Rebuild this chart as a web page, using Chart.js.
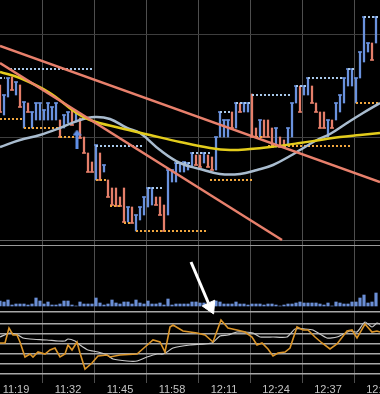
<!DOCTYPE html>
<html>
<head>
    <meta charset="utf-8">
    <title>Grafico 1 minuto</title>
    <script src="https://cdn.jsdelivr.net/npm/chart.js@4.4.2/dist/chart.umd.min.js"></script>
    <style>
        html, body {
            margin: 0;
            padding: 0;
            background: #000;
        }

        canvas {
            display: block;
        }
    </style>
</head>
<body>
    <canvas id="grafico" width="380" height="394"></canvas>
    <script>
        // eixo x: minutos depois das 11:15, uma barra por minuto
        const rotulosTempo = [4, 17, 30, 43, 56, 69, 82, 95];

        // barras de preco (minima / maxima) e direcao (U = alta, D = baixa)
        const barMinima = [
            138, 135, 153, 160, 155, 143, 122, 138, 122, 130,
            130, 130, 130, 130, 130, 113, 122, 127, 125, 128,
            112, 97, 78, 78, 70, 70, 78, 53, 45, 44,
            44, 28, 28, 27, 19, 30, 35, 43, 45, 45,
            35, 19, 35, 68, 68, 78, 78, 80, 83, 85,
            83, 87, 83, 80, 80, 113, 113, 113, 122, 122,
            138, 138, 138, 113, 113, 113, 113, 113, 103, 103,
            103, 103, 104, 113, 147, 138, 155, 155, 147, 138,
            122, 122, 113, 122, 130, 138, 147, 164, 164, 147,
            172, 188, 198, 190, 207
        ];
        const barMaxima = [
            165, 155, 172, 173, 168, 165, 148, 147, 138, 147,
            147, 140, 147, 143, 147, 130, 135, 138, 140, 138,
            132, 113, 97, 88, 105, 97, 85, 70, 62, 62,
            53, 62, 43, 43, 35, 43, 53, 62, 62, 53,
            53, 45, 80, 80, 87, 87, 88, 87, 97, 95,
            95, 97, 95, 93, 113, 138, 130, 130, 138, 147,
            147, 147, 147, 156, 122, 130, 130, 130, 122, 122,
            113, 110, 122, 147, 164, 164, 164, 172, 164, 147,
            138, 138, 130, 130, 147, 155, 172, 181, 181, 172,
            198, 233, 207, 207, 233
        ];
        const barDirecao = "DUUDUDUDUU" + "UUUUUDUUDU" + "DDDDUDUDDD" + "DDUDUUUUUD" + "DDUUUUUUUD" +
            "DUDDUUUUDU" + "DUUDDUDDDU" + "DDUUUDUUDD" + "DDUDUUUUUU" + "UUUDU";

        // volume (centenas de contratos)
        const volume = [
            5, 4, 6, 1, 2, 2, 2, 1, 2, 8,
            5, 2, 4, 1, 1, 2, 5, 5, 1, 0,
            4, 2, 2, 2, 8, 3, 1, 2, 6, 3,
            2, 4, 4, 2, 6, 3, 2, 5, 2, 2,
            3, 1, 7, 1, 2, 2, 2, 2, 4, 4,
            3, 3, 1, 4, 5, 4, 2, 2, 2, 4,
            2, 2, 1, 2, 2, 2, 1, 2, 2, 1,
            0, 1, 2, 2, 3, 4, 3, 3, 3, 3,
            2, 1, 3, 0, 4, 3, 2, 2, 4, 4,
            8, 11, 3, 4, 13
        ];

        // medias moveis
        const mediaLentaT = [0, 5, 12.5, 18.75, 22.5, 30, 37.5, 45, 52.5, 57.5, 62.5, 67.5, 75, 80, 85, 90, 95];
        const mediaLentaV = [178, 172, 157, 138, 130, 122, 115, 108, 102, 100, 101, 103, 107, 110, 113, 115, 117];
        const mediaRapidaT = [0, 5, 10, 15, 20, 23.75, 27.5, 31.75, 35, 40, 45, 50, 55, 60, 64.25, 68.25, 72.5, 75, 79.25, 82.5, 86.75, 90.75, 95];
        const mediaRapidaV = [103, 110, 115, 122, 130, 133, 131, 122, 117, 100, 87, 81, 76, 76, 80, 85, 94, 100, 110, 116, 127, 137, 147];

        // linhas de tendencia
        const tendA_t = [0, 95];
        const tendA_p = [204, 68];
        const tendB_t = [0, 70.5];
        const tendB_p = [187, 10];

        // resistencias (pontilhado azul) e suportes (pontilhado laranja)
        const resPreco = [172, 181, 104, 62, 87, 97, 138, 147, 155, 164, 172, 181, 233];
        const resInicio = [0, 2.5, 24, 37, 44, 48, 55, 59, 63, 74, 77, 87, 91];
        const resFim = [1.2, 23, 36, 41, 47.5, 53, 58, 63, 73, 77, 86, 89, 95];
        const supPreco = [131, 122, 113, 70, 44, 27, 19, 70, 113, 104, 147];
        const supInicio = [0, 6, 15, 24, 27.5, 31, 34, 52.5, 64, 67, 89];
        const supFim = [5.5, 15, 20, 27, 30, 33, 52, 63, 66, 88, 95];

        // oscilador (%K laranja, %D cinza)
        const osciKT = [0, 1.25, 2.25, 3.25, 4.25, 5, 6.25, 7.5, 8.25, 9.5, 11.25, 12.5, 13.75, 15, 16.25, 17, 18, 19.25, 20, 21.25,
            23, 24.5, 26.75, 27.5, 30, 34.25, 36.25, 38.25, 40, 41.25, 42.5, 43.25, 45.75, 47.5, 49.25, 51.25, 53.25, 55.25, 57, 59.25,
            61.25, 63, 64.25, 65.5, 67, 68.25, 69.5, 71.25, 72.5, 74.25, 75.75, 77, 78.75, 80.5, 82.5, 84.25, 86.75, 88, 89.25, 91.25,
            93, 94.25, 95];
        const osciKV = [62, 62, 92, 78, 78, 64, 34, 40, 34, 44, 40, 48, 52, 34, 40, 58, 48, 64, 42, 10,
            22, 36, 38, 34, 38, 40, 54, 68, 64, 44, 94, 98, 86, 84, 82, 78, 64, 108, 92, 88,
            84, 74, 58, 62, 50, 36, 42, 44, 52, 94, 88, 88, 74, 62, 50, 60, 86, 88, 72, 100,
            84, 86, 84];
        const osciDT = [0, 2.5, 4.5, 5.75, 7.5, 11.75, 14.5, 16.25, 17, 18.75, 20, 22, 24.5, 26.75, 28.25, 31.75, 34.25, 36.75, 39.25, 40.75,
            41.75, 43.25, 47.5, 53, 55, 57, 59.25, 61.25, 63.25, 65, 68.25, 71.75, 73.75, 76.25, 78.25, 81.75, 84.25, 87.5, 89.25, 91.25,
            93, 94.25, 95];
        const osciDV = [74, 82, 78, 72, 70, 68, 66, 66, 70, 66, 58, 48, 44, 38, 30, 26, 26, 34, 40, 40,
            44, 52, 58, 62, 76, 78, 84, 84, 82, 74, 74, 74, 90, 90, 88, 72, 74, 86, 84, 104,
            94, 102, 100];
        const niveisOsci = [0, 20, 40, 60, 80, 100, 125];

        // marcacoes: seta de compra (preco) e seta branca (oscilador)
        const setaCompraT = [19.25];
        const setaCompraP = [111];
        const setaBrancaT = [47.75, 52.1];
        const setaBrancaV = [224, 142];
        const pontaSetaT = [52.55];
        const pontaSetaV = [134.6];

        const niveisPreco = [5, 10, 112.5, 215];

        function pontos(t, v) {
            return t.map((x, i) => ({ x: x, y: v[i] }));
        }

        function segmentos(preco, ini, fim) {
            const out = [];
            preco.forEach((p, i) => {
                out.push({ x: ini[i], y: p }, { x: fim[i], y: p }, { x: fim[i] + 0.01, y: null });
            });
            return out;
        }

        function horario(min) {
            const total = 11 * 60 + 15 + min;
            const h = Math.floor(total / 60);
            const m = total % 60;
            return h + ":" + String(m).padStart(2, "0");
        }

        // seta azul desenhada num canvas pequeno
        const setaAzul = document.createElement("canvas");
        setaAzul.width = 9;
        setaAzul.height = 19;
        (function () {
            const c = setaAzul.getContext("2d");
            c.fillStyle = "#5f8fe6";
            c.beginPath();
            c.moveTo(4.5, 0);
            c.lineTo(9, 6);
            c.lineTo(0, 6);
            c.closePath();
            c.fill();
            c.fillRect(3, 6, 3, 13);
        })();

        const fundoPreto = {
            id: "fundoPreto",
            beforeDraw(chart) {
                const c = chart.ctx;
                c.save();
                c.fillStyle = "#000";
                c.fillRect(0, 0, chart.width, chart.height);
                c.restore();
            }
        };

        const AZUL = "#6a92de";
        const SALMAO = "#e57f6a";
        const corBarra = barMinima.map((lo, i) => barDirecao[i] === "U" ? AZUL : SALMAO);

        new Chart(document.getElementById("grafico"), {
            type: "bar",
            data: {
                datasets: [
                    {
                        type: "line",
                        data: pontos(pontaSetaT, pontaSetaV),
                        yAxisID: "yi",
                        showLine: false,
                        pointStyle: "triangle",
                        pointRadius: 8,
                        pointRotation: 155,
                        pointBackgroundColor: "#fff",
                        pointBorderColor: "#fff",
                        pointBorderWidth: 1,
                        order: 0
                    },
                    {
                        type: "line",
                        data: pontos(setaBrancaT, setaBrancaV),
                        yAxisID: "yi",
                        borderColor: "#fff",
                        borderWidth: 3,
                        pointRadius: 0,
                        order: 0
                    },
                    {
                        type: "line",
                        data: pontos(osciKT, osciKV),
                        yAxisID: "yi",
                        borderColor: "#dc962a",
                        borderWidth: 1.6,
                        pointRadius: 0,
                        tension: 0,
                        order: 1
                    },
                    {
                        type: "line",
                        data: pontos(osciDT, osciDV),
                        yAxisID: "yi",
                        borderColor: "#c8c8c8",
                        borderWidth: 1.2,
                        pointRadius: 0,
                        tension: 0.2,
                        order: 2
                    },
                    {
                        type: "line",
                        data: pontos(setaCompraT, setaCompraP),
                        yAxisID: "yp",
                        showLine: false,
                        pointStyle: setaAzul,
                        order: 1
                    },
                    {
                        type: "line",
                        data: pontos(tendA_t, tendA_p),
                        yAxisID: "yp",
                        borderColor: "#e8806c",
                        borderWidth: 2.5,
                        pointRadius: 0,
                        order: 2
                    },
                    {
                        type: "line",
                        data: pontos(tendB_t, tendB_p),
                        yAxisID: "yp",
                        borderColor: "#e8806c",
                        borderWidth: 2.5,
                        pointRadius: 0,
                        order: 2
                    },
                    {
                        type: "line",
                        data: pontos(mediaLentaT, mediaLentaV),
                        yAxisID: "yp",
                        borderColor: "#e3cc1c",
                        borderWidth: 2.5,
                        pointRadius: 0,
                        tension: 0.4,
                        order: 3
                    },
                    {
                        type: "line",
                        data: pontos(mediaRapidaT, mediaRapidaV),
                        yAxisID: "yp",
                        borderColor: "#a9bccf",
                        borderWidth: 2.5,
                        pointRadius: 0,
                        tension: 0.4,
                        order: 3
                    },
                    {
                        type: "line",
                        data: segmentos(resPreco, resInicio, resFim),
                        yAxisID: "yp",
                        borderColor: "#a8c8ea",
                        borderWidth: 2,
                        borderDash: [2, 2],
                        pointRadius: 0,
                        spanGaps: false,
                        order: 4
                    },
                    {
                        type: "line",
                        data: segmentos(supPreco, supInicio, supFim),
                        yAxisID: "yp",
                        borderColor: "#f0a63e",
                        borderWidth: 2,
                        borderDash: [2, 2],
                        pointRadius: 0,
                        spanGaps: false,
                        order: 4
                    },
                    {
                        // pequeno traco horizontal no fechamento de cada barra
                        type: "line",
                        data: barMinima.map((lo, i) => ({ x: i, y: barDirecao[i] === "U" ? barMaxima[i] : lo })),
                        yAxisID: "yp",
                        showLine: false,
                        pointStyle: "line",
                        pointRadius: 2,
                        pointBorderWidth: 1.5,
                        pointBorderColor: corBarra,
                        order: 5
                    },
                    {
                        data: barMinima.map((lo, i) => ({ x: i, y: [lo, barMaxima[i]] })),
                        yAxisID: "yp",
                        backgroundColor: corBarra,
                        barThickness: 1.6,
                        grouped: false,
                        order: 5
                    },
                    {
                        data: volume.map((v, i) => ({ x: i, y: v })),
                        yAxisID: "yv",
                        backgroundColor: "#6b8fd6",
                        barThickness: 2.5,
                        grouped: false,
                        order: 5
                    }
                ]
            },
            options: {
                responsive: false,
                animation: false,
                layout: { padding: 0, autoPadding: false },
                plugins: {
                    legend: { display: false },
                    tooltip: { enabled: false }
                },
                scales: {
                    x: {
                        type: "linear",
                        min: 0,
                        max: 95,
                        offset: false,
                        afterBuildTicks: (s) => { s.ticks = rotulosTempo.map(v => ({ value: v })); },
                        afterFit: (s) => {
                            s.height = 16;
                            s.paddingLeft = 0;
                            s.paddingRight = 0;
                        },
                        border: { display: false },
                        grid: { color: "#4e4e4e", tickLength: 5 },
                        ticks: {
                            color: "#c4c4c4",
                            font: { family: "Liberation Sans", size: 11 },
                            padding: 0,
                            maxRotation: 0,
                            autoSkip: false,
                            callback: (v) => horario(v)
                        }
                    },
                    yp: {
                        position: "left",
                        min: -128,
                        max: 250,
                        afterBuildTicks: (s) => { s.ticks = niveisPreco.map(v => ({ value: v })); },
                        afterFit: (s) => { s.width = 0; },
                        border: { display: false },
                        grid: {
                            drawTicks: false,
                            color: (c) => c.tick.value === 5 ? "#9a9a9a" : (c.tick.value === 10 ? "#606060" : "#3e3e3e")
                        },
                        ticks: { display: false }
                    },
                    yv: {
                        display: false,
                        min: -72,
                        max: 306
                    },
                    yi: {
                        position: "left",
                        min: -8,
                        max: 748,
                        afterBuildTicks: (s) => { s.ticks = niveisOsci.map(v => ({ value: v })); },
                        afterFit: (s) => { s.width = 0; },
                        border: { display: false },
                        grid: { drawTicks: false, color: "#a8a8a8", lineWidth: 1.5 },
                        ticks: { display: false }
                    }
                }
            },
            plugins: [fundoPreto]
        });
    </script>
</body>
</html>
